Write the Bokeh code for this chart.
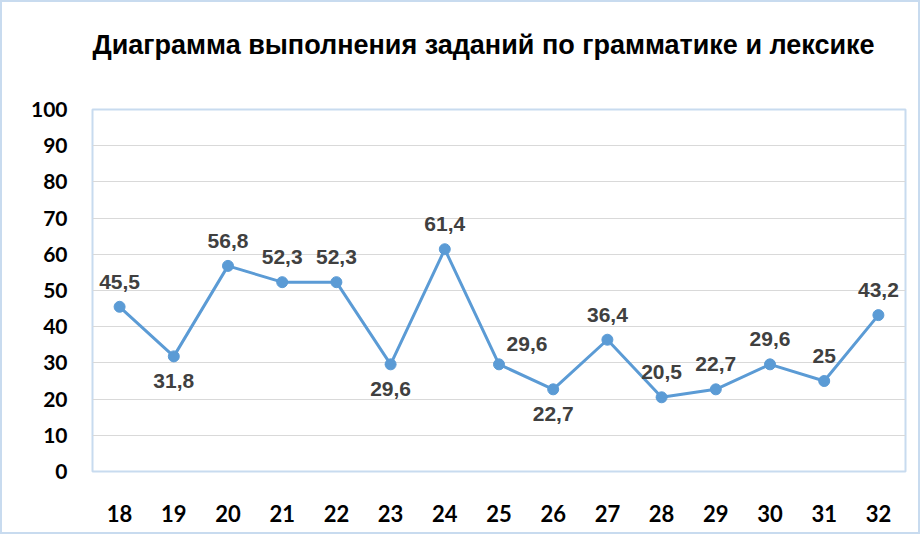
from bokeh.plotting import figure
from bokeh.models import ColumnDataSource, Range1d, FactorRange, LabelSet, FixedTicker, Title
from bokeh.core.properties import value
from bokeh.embed import file_html
from bokeh.resources import INLINE

title_text = "Диаграмма выполнения заданий по грамматике и лексике"
tasks = ["18", "19", "20", "21", "22", "23", "24", "25", "26", "27", "28", "29", "30", "31", "32"]
values = [45.5, 31.8, 56.8, 52.3, 52.3, 29.6, 61.4, 29.6, 22.7, 36.4, 20.5, 22.7, 29.6, 25, 43.2]
label_side = ["above", "below", "above", "above", "above", "below", "above", "above-right",
              "below", "above", "above", "above", "above", "above", "above"]
y_ticks = [0, 10, 20, 30, 40, 50, 60, 70, 80, 90, 100]

offsets = {"above": (0, 25), "below": (0, -25), "above-right": (28, 20)}

def fmt(v):
    s = ("%g" % v)
    return s.replace(".", ",")

src = ColumnDataSource(dict(
    x=tasks, y=values,
    text=[fmt(v) for v in values],
    dx=[offsets[s][0] for s in label_side],
    dy=[offsets[s][1] for s in label_side],
))

LINE = "#5B9BD5"

p = figure(width=920, height=534, x_range=FactorRange(*tasks), y_range=Range1d(0, 100),
           output_backend="svg", toolbar_location=None,
           min_border_left=90, min_border_right=17, min_border_top=107, min_border_bottom=65)
p.styles = {"border": "2px solid #C8DBEF"}

# a blank second line lifts the title towards the top of the margin
t = Title(text=title_text + "\n ", align="left", offset=0,
          text_font="Liberation Sans", text_font_style="bold",
          text_font_size="27px", text_color="#000000", standoff=39)
p.add_layout(t, "above")

p.outline_line_color = "#C8DBEF"
p.outline_line_width = 2
p.background_fill_color = "white"
p.border_fill_color = "white"

p.xgrid.grid_line_color = None
p.ygrid.grid_line_color = "#D9D9D9"
p.ygrid.grid_line_width = 1
p.yaxis.ticker = FixedTicker(ticks=y_ticks)

for ax in (p.xaxis[0], p.yaxis[0]):
    ax.axis_line_color = None
    ax.major_tick_line_color = None
    ax.minor_tick_line_color = None
    ax.major_label_text_font = "Lato"
    ax.major_label_text_font_style = "bold"
    ax.major_label_text_color = "#000000"
p.xaxis.major_label_text_font_size = "22px"
p.yaxis.major_label_text_font_size = "21px"
p.yaxis.major_label_standoff = 19
p.xaxis.major_label_standoff = 27

p.line("x", "y", source=src, line_color=LINE, line_width=3)
p.scatter("x", "y", source=src, size=11, fill_color=LINE, line_color=LINE)

labels = LabelSet(x="x", y="y", text="text", source=src, x_offset="dx", y_offset="dy",
                  text_align="center", text_baseline="middle",
                  text_font=value("Liberation Sans"), text_font_style="bold",
                  text_font_size="21px", text_color="#404040")
p.add_layout(labels)

open("out.html", "w").write(file_html(p, INLINE))
